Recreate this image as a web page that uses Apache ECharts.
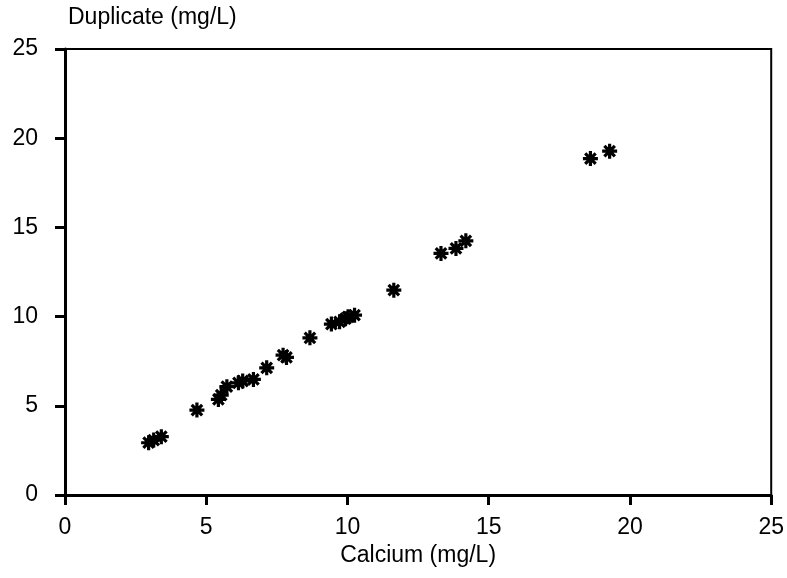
<!DOCTYPE html>
<html><head><meta charset="utf-8">
<script src="https://cdn.jsdelivr.net/npm/echarts@6/dist/echarts.min.js"></script>
<style>html,body{margin:0;padding:0;background:#fff}#c{width:787px;height:578px}</style>
</head><body><div id="c"></div>
<script>
var calcium   = [2.96,3.14,3.41,4.67,5.43,5.53,5.73,6.14,6.29,6.67,7.14,7.72,7.84,8.67,9.43,9.72,9.93,10.02,10.25,11.64,13.31,13.84,14.19,18.6,19.28];
var duplicate = [2.93,3.08,3.27,4.76,5.36,5.60,6.07,6.29,6.39,6.48,7.13,7.84,7.71,8.81,9.58,9.71,9.88,9.99,10.08,11.48,13.54,13.82,14.25,18.86,19.27];
var xTicks = [0,5,10,15,20,25];
var yTicks = [0,5,10,15,20,25];
var xTitle = 'Calcium (mg/L)';
var yTitle = 'Duplicate (mg/L)';

var pts = calcium.map(function(v,i){return [v, duplicate[i]];});
var font = 'Liberation Sans';
var chart = echarts.init(document.getElementById('c'));
chart.setOption({
  animation:false,
  backgroundColor:'#fff',
  grid:{left:65,right:15,top:49,bottom:83,show:true,borderColor:'#000',borderWidth:2},
  xAxis:{type:'value',min:xTicks[0],max:xTicks[xTicks.length-1],interval:5,
    name:xTitle,nameLocation:'middle',nameGap:42,
    nameTextStyle:{color:'#000',fontFamily:font,fontSize:23},
    axisLine:{show:true,lineStyle:{color:'#000',width:3}},
    axisTick:{show:true,inside:false,length:10,lineStyle:{color:'#000',width:3}},
    axisLabel:{color:'#000',fontFamily:font,fontSize:23,margin:21},
    splitLine:{show:false}},
  yAxis:{type:'value',min:yTicks[0],max:yTicks[yTicks.length-1],interval:5,
    name:yTitle,nameLocation:'end',nameGap:20,
    nameTextStyle:{color:'#000',fontFamily:font,fontSize:23,align:'left',padding:[0,0,0,3]},
    axisLine:{show:true,lineStyle:{color:'#000',width:3}},
    axisTick:{show:true,inside:false,length:10,lineStyle:{color:'#000',width:3}},
    axisLabel:{color:'#000',fontFamily:font,fontSize:23,margin:27},
    splitLine:{show:false}},
  series:[{type:'scatter',data:pts,
    symbol:'path://M5,0L5,10M0,5L10,5M1.5,1.5L8.5,8.5M1.5,8.5L8.5,1.5',
    symbolSize:15,
    itemStyle:{color:'#000',borderColor:'#000',borderWidth:3.2,opacity:1}}]
});
</script></body></html>
